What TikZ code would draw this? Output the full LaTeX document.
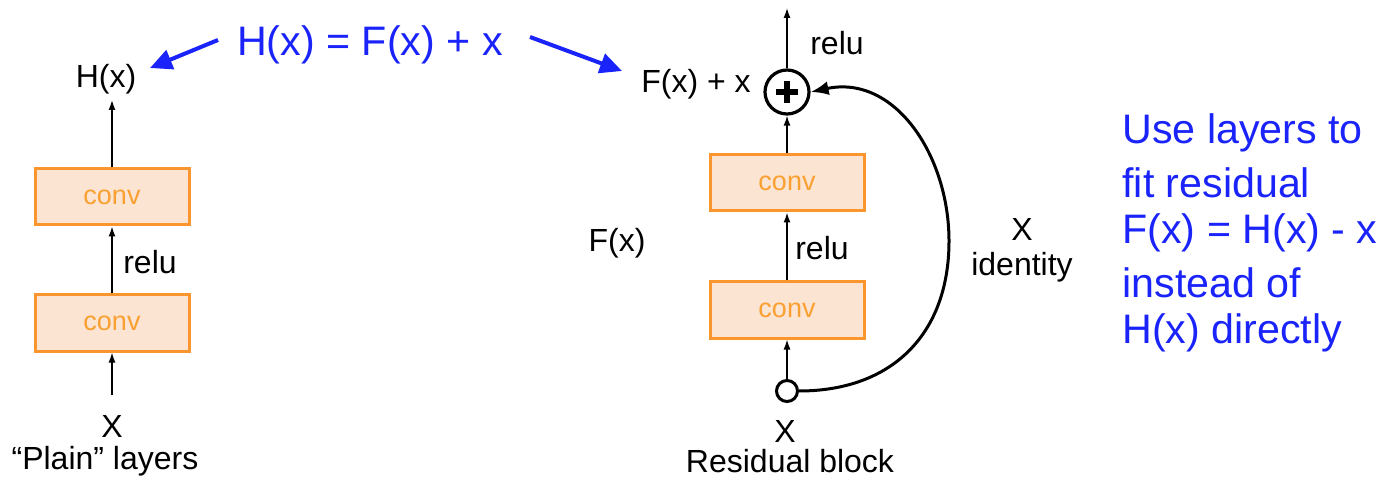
\documentclass[tikz,border=0pt]{standalone}
\usepackage{fontspec}
\setmainfont{Liberation Sans}
\usetikzlibrary{arrows.meta}
\definecolor{myblue}{RGB}{25,35,250}
\definecolor{convline}{RGB}{250,150,45}
\definecolor{convfill}{RGB}{252,228,210}
\definecolor{convtext}{RGB}{250,160,50}
\begin{document}
\begin{tikzpicture}[x=0.5pt,y=-0.5pt,
  lbl/.style={font=\fontsize{16}{19}\selectfont, inner sep=0pt},
  bluetxt/.style={text=myblue, font=\fontsize{20.6}{25}\selectfont, inner sep=0pt},
  convbox/.style={draw=convline, fill=convfill, line width=1.5pt, minimum width=77pt, minimum height=28pt, text=convtext, font=\fontsize{13.5}{16}\selectfont, inner sep=0pt},
  arr/.style={-{Latex[length=5pt,width=3.5pt]}, line width=0.7pt},
  bluearr/.style={myblue, line width=2pt, -{Triangle[length=11pt,width=10pt]}},
  curvearr/.style={line width=1.5pt, -{Latex[length=9pt,width=7pt]}},
]
\useasboundingbox (0,0) rectangle (1384,496);

% title
\node[bluetxt] (title) at (370,45) {H(x) = F(x) + x};

% plain layers
\node[lbl] (Hx) at (106,79) {H(x)};
\node[convbox] (pconv2) at (112,197) {conv};
\node[convbox] (pconv1) at (112,323) {conv};
\node[lbl] (prelu) at (150,262) {relu};
\node[lbl] (pX) at (112,426) {X};
\node[lbl] (plain) at (105,461) {“Plain” layers};
\coordinate (pin) at (112,395);
\draw[arr] (pconv2.north) -- (112,100);
\draw[arr] (pconv1.north) -- (pconv2.south);
\draw[arr] (pin) -- (pconv1.south);

% residual block
\node[draw, circle, line width=1.6pt, minimum size=22pt, inner sep=0pt] (plus) at (787,92) {};
\draw[line width=3pt] ([xshift=-5.5pt]plus.center) -- ([xshift=5.5pt]plus.center);
\draw[line width=3pt] ([yshift=-5.5pt]plus.center) -- ([yshift=5.5pt]plus.center);
\node[lbl] (Fxx) at (696,84) {F(x) + x};
\node[lbl] (rrelu2) at (837,43) {relu};
\coordinate (rout) at (787,8);
\node[convbox] (rconv2) at (787,183) {conv};
\node[convbox] (rconv1) at (787,310) {conv};
\node[lbl] (rrelu1) at (822,248) {relu};
\node[lbl] (Fx) at (617,243) {F(x)};
\node[draw, circle, line width=1.5pt, minimum size=10.5pt, inner sep=0pt, fill=white] (xin) at (787,391) {};
\node[lbl] (rX) at (785,431) {X};
\node[lbl] (resblock) at (790,461) {Residual block};
\node[lbl] (idX) at (1022,229) {X};
\node[lbl] (ident) at (1022,267) {identity};
\coordinate (arcmid) at (949,241);

\draw[arr] (plus.north) -- (rout);
\draw[arr] (rconv2.north) -- (plus.south);
\draw[arr] (rconv1.north) -- (rconv2.south);
\draw[arr] (xin.north) -- (rconv1.south);
\draw[curvearr] (xin.east) to[out=0,in=-90,looseness=1.12] (arcmid) to[out=90,in=12,looseness=1.08] (plus.east);

% blue arrows
\coordinate (la) at (218,40);
\coordinate (ra) at (530,37);
\draw[bluearr] (la) -- (150,68);
\draw[bluearr] (ra) -- (622,71);

% right text
\node[bluetxt, anchor=west] (t1) at (1122,133) {Use layers to};
\node[bluetxt, anchor=west] (t2) at (1122,183) {fit residual};
\node[bluetxt, anchor=west] (t3) at (1122,233) {F(x) = H(x) - x};
\node[bluetxt, anchor=west] (t4) at (1122,283) {instead of};
\node[bluetxt, anchor=west] (t5) at (1122,333) {H(x) directly};
\end{tikzpicture}
\end{document}
